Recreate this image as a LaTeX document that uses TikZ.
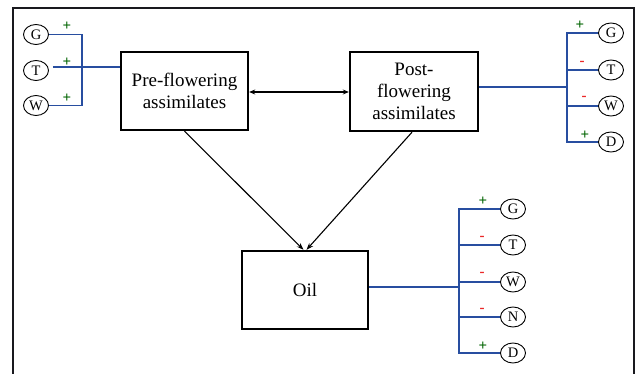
\documentclass[tikz,border=0pt]{standalone}
\usepackage{fontspec}
\setmainfont{Liberation Serif}
\usetikzlibrary{arrows.meta,shapes.geometric}
\definecolor{linkblue}{RGB}{40,78,160}
\definecolor{plusgreen}{RGB}{0,100,0}
\definecolor{minusred}{RGB}{235,40,40}
\definecolor{framegray}{RGB}{25,25,30}
\begin{document}
\begin{tikzpicture}[x=1pt,y=-1pt,
  mainbox/.style={draw=black,line width=2.4pt,minimum width=#1,inner sep=0pt,align=center,
    font=\rmfamily\fontsize{19}{22}\selectfont},
  factor/.style={draw=black,line width=0.9pt,ellipse,minimum width=25pt,minimum height=20pt,inner sep=0pt,
    font=\rmfamily\fontsize{14.5}{14.5}\selectfont},
  link/.style={draw=linkblue,line width=1.4pt},
  flow/.style={draw=black,line width=1.1pt,-{Stealth[length=7pt,width=5pt]}},
  plus/.style={text=plusgreen,font=\bfseries\fontsize{15}{15}\selectfont,inner sep=0pt},
  minus/.style={text=minusred,font=\bfseries\fontsize{15}{15}\selectfont,inner sep=0pt}]
\useasboundingbox (0,0) rectangle (637,374);
\fill[white] (0,0) rectangle (637,374);
\draw[framegray,line width=2.5pt] (13,374) -- (13,8) -- (634,8) -- (634,374);

% main boxes
\node[mainbox=127pt,minimum height=78pt] (pre) at (184.5,91) {Pre-flowering\\assimilates};
\node[mainbox=128pt,minimum height=79pt] (post) at (414,91.5) {Post-\\flowering\\assimilates};
\node[mainbox=126.5pt,minimum height=78pt] (oil) at (305,290) {Oil};

\draw[black,line width=1.1pt,{Stealth[length=6pt,width=5pt]}-{Stealth[length=6pt,width=5pt]}]
  ([yshift=-1pt]pre.east) -- ([yshift=-1pt]pre.east -| post.west);
\draw[flow] (pre.south) -- ([xshift=-1.5pt]oil.north);
\draw[flow] ([xshift=-2pt]post.south) -- ([xshift=1.5pt]oil.north);

% left factors
\node[factor] (gl) at (36,34.5) {G};
\node[factor] (tl) at (36,70.5) {T};
\node[factor] (wl) at (36,105.5) {W};
\coordinate (lj1) at (82,34.5);
\coordinate (lj2) at (82,105.5);
\draw[link] (gl.east) -- (lj1) -- (lj2) -- (wl.east);
\draw[link] ([xshift=4pt,yshift=3.5pt]tl.east) -- ([yshift=3.5pt]tl.east -| pre.west);
\node[plus] (pgl) at (67,26) {+};
\node[plus] (ptl) at (67,62) {+};
\node[plus] (pwl) at (67,98) {+};

% post factors
\node[factor] (gp) at (611,33) {G};
\node[factor] (tp) at (611,70) {T};
\node[factor] (wp) at (611,106) {W};
\node[factor] (dp) at (611,142) {D};
\coordinate (pj) at (567,87);
\draw[link] (post.east |- pj) -- (pj);
\draw[link] (gp.west) -- (gp.west -| pj) -- (dp.west -| pj) -- (dp.west);
\draw[link] (tp.west) -- (tp.west -| pj);
\draw[link] (wp.west) -- (wp.west -| pj);
\node[plus] (pgp) at (580,25) {+};
\node[minus] (mtp) at (582,63) {-};
\node[minus] (mwp) at (584,98) {-};
\node[plus] (pdp) at (585,135) {+};

% oil factors
\node[factor] (go) at (513,209) {G};
\node[factor] (to) at (513,245) {T};
\node[factor] (wo) at (513,282) {W};
\node[factor] (no) at (513,317) {N};
\node[factor] (do) at (513,353) {D};
\coordinate (oj) at (459,287);
\draw[link] (oil.east |- oj) -- (oj);
\draw[link] (go.west) -- (go.west -| oj) -- (do.west -| oj) -- (do.west);
\draw[link] (to.west) -- (to.west -| oj);
\draw[link] (wo.west) -- (wo.west -| oj);
\draw[link] (no.west) -- (no.west -| oj);
\node[plus] (pgo) at (483,201) {+};
\node[minus] (mto) at (482,238) {-};
\node[minus] (mwo) at (482,274) {-};
\node[minus] (mno) at (482,310) {-};
\node[plus] (pdo) at (483,346) {+};
\end{tikzpicture}
\end{document}
